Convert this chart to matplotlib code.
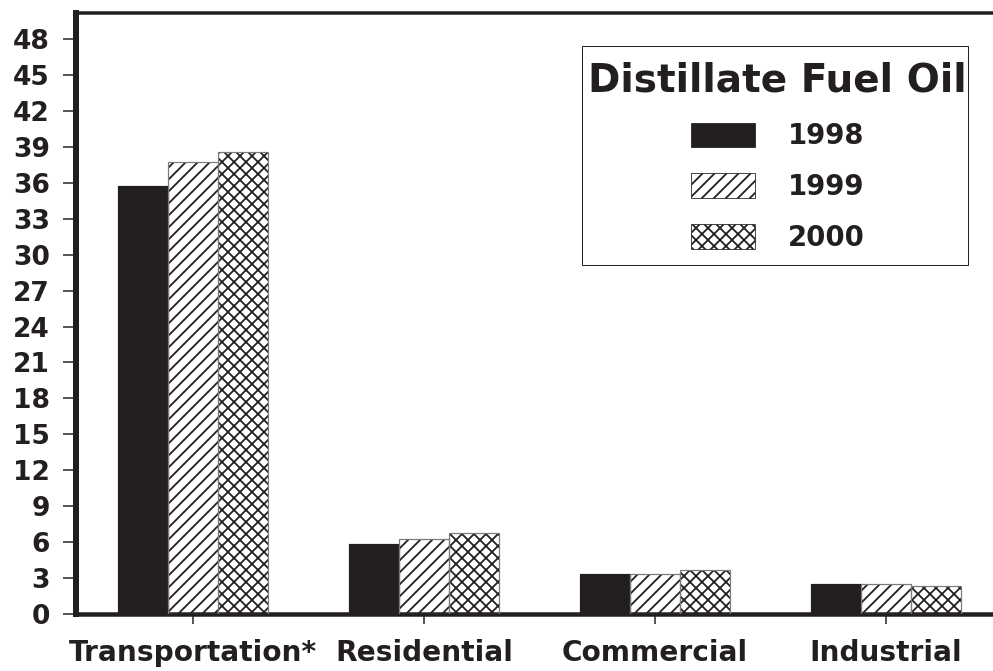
import matplotlib
matplotlib.use("Agg")
import matplotlib.pyplot as plt
from matplotlib.patches import Patch, Rectangle
import numpy as np

categories = ["Transportation*", "Residential", "Commercial", "Industrial"]
years = ["1998", "1999", "2000"]
values_1998 = [35.75, 5.85, 3.3, 2.5]
values_1999 = [37.7, 6.3, 3.35, 2.5]
values_2000 = [38.6, 6.8, 3.7, 2.35]
y_ticks = list(range(0, 49, 3))
legend_title = "Distillate Fuel Oil"

DARK = "#231f20"
plt.rcParams["font.family"] = ["DejaVu Sans"]
plt.rcParams["font.weight"] = "bold"
plt.rcParams["hatch.linewidth"] = 1.8
plt.rcParams["hatch.color"] = DARK

W, H, DPI = 993, 671, 72
fig = plt.figure(figsize=(W / DPI, H / DPI), dpi=DPI)
ax = fig.add_axes([76 / W, 1 - 614 / H, 1 - 76 / W, (614 - 12.7) / H])

x = np.arange(len(categories))
bw = 0.2165
series = [values_1998, values_1999, values_2000]
styles = [dict(facecolor=DARK, hatch=None),
          dict(facecolor="white", hatch="//"),
          dict(facecolor="white", hatch="xx")]
for i, (vals, st) in enumerate(zip(series, styles)):
    pos = x + (i - 1) * bw
    ax.bar(pos, vals, width=bw, facecolor=st["facecolor"], hatch=st["hatch"],
           edgecolor=DARK, linewidth=0, zorder=2)
    ax.bar(pos, vals, width=bw, fill=False,
           edgecolor=(DARK if i == 0 else "#7a7a7a"), linewidth=1.2, zorder=3)

ax.set_xlim(-0.5065, 3.463)
ax.set_ylim(0, 50.2)
ax.set_yticks(y_ticks)
ax.set_yticklabels([str(t) for t in y_ticks])
ax.set_xticks(x)
ax.set_xticklabels(categories)

ax.tick_params(axis="y", direction="out", length=13, width=1.5, pad=13,
               labelsize=26.5, colors=DARK)
ax.tick_params(axis="x", direction="out", length=10, width=1.5, pad=15,
               labelsize=28, colors=DARK)
for lab in ax.get_xticklabels() + ax.get_yticklabels():
    lab.set_fontweight("bold")

ax.spines["right"].set_visible(False)
ax.spines["left"].set_linewidth(6)
ax.spines["top"].set_linewidth(3.5)
ax.spines["bottom"].set_linewidth(4.5)
for s in ["left", "top", "bottom"]:
    ax.spines[s].set_color(DARK)

# legend box
box = Rectangle((582 / W, 1 - 265 / H), (968 - 582) / W, (265 - 46) / H,
                transform=fig.transFigure, facecolor="white", edgecolor=DARK,
                linewidth=1.0, zorder=4, clip_on=False)
ax.add_artist(box)

handles = [Patch(facecolor=DARK, edgecolor=DARK, linewidth=0.8),
           Patch(facecolor="white", edgecolor=DARK, hatch="//", linewidth=0.8),
           Patch(facecolor="white", edgecolor=DARK, hatch="xx", linewidth=0.8)]
leg = ax.legend(handles, years, loc="upper center",
                bbox_to_anchor=(777.5 / W, 1 - 61.5 / H), bbox_transform=fig.transFigure,
                borderaxespad=0, title=legend_title,
                title_fontproperties={"weight": "bold", "size": 39},
                prop={"weight": "bold", "size": 27.5},
                handlelength=2.33, handleheight=1.0, handletextpad=1.2,
                labelspacing=0.83, borderpad=0, frameon=False)
leg.set_zorder(5)
leg.get_title().set_color(DARK)
for t in leg.get_texts():
    t.set_color(DARK)

fig.savefig("out.png", dpi=DPI)
